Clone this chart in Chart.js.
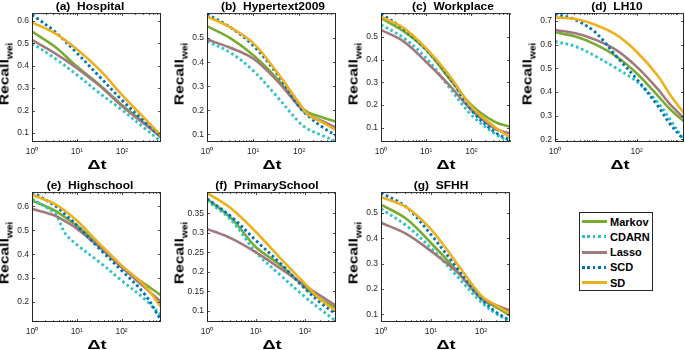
<!DOCTYPE html>
<html>
<head>
<meta charset="utf-8">
<script src="https://cdn.jsdelivr.net/npm/chart.js@4.4.0/dist/chart.umd.min.js"></script>
<style>
html, body { margin: 0; padding: 0; width: 685px; height: 350px; overflow: hidden; background: #fff; }
body { position: relative; font-family: 'Liberation Sans', Arial, sans-serif; color: #000; }
.panel { position: absolute; }
.title { position: absolute; font-weight: bold; font-size: 12px; line-height: 12px; white-space: nowrap; transform: translate(-50%, -50%) scaleY(0.9); }
.ylab { position: absolute; font-weight: bold; font-size: 13px; line-height: 13px; white-space: nowrap; transform: translate(-50%, -50%) rotate(-90deg) scaleX(1.2); }
.ylab span { font-size: 8.5px; position: relative; top: 4px; }
.xlab { position: absolute; font-weight: bold; font-size: 14px; line-height: 14px; white-space: nowrap; transform: translate(-50%, -50%) scaleX(1.3) scaleY(0.85); }
#legend { position: absolute; left: 579px; top: 212px; width: 72px; height: 76px; border: 1px solid #262626; padding-top: 1px; box-sizing: content-box; }
#legend .item { height: 15.25px; display: flex; align-items: center; font-weight: bold; font-size: 11px; }
#legend .swatch { display: inline-block; width: 25px; height: 2.8px; margin-left: 2px; margin-right: 3px; }
</style>
</head>
<body>
<div id="legend"></div>
<script>
// Series (legend order)
const seriesNames = ['Markov', 'CDARN', 'Lasso', 'SCD', 'SD'];

// (a) Hospital
const hospitalDt = [1, 3.2, 10, 32, 100, 320, 740];
const hospitalMarkov = [0.552, 0.485, 0.396, 0.314, 0.225, 0.143, 0.080];
const hospitalCdarn = [0.500, 0.433, 0.359, 0.277, 0.203, 0.121, 0.061];
const hospitalLasso = [0.515, 0.456, 0.389, 0.310, 0.220, 0.140, 0.083];
const hospitalScd = [0.627, 0.552, 0.456, 0.350, 0.247, 0.150, 0.083];
const hospitalSd = [0.593, 0.545, 0.473, 0.381, 0.270, 0.165, 0.090];
const hospitalYTicks = [0.1, 0.2, 0.3, 0.4, 0.5, 0.6];

// (b) Hypertext2009
const hypertextDt = [1, 3.2, 10, 32, 100, 160, 320, 630];
const hypertextMarkov = [0.550, 0.500, 0.430, 0.335, 0.220, 0.190, 0.170, 0.152];
const hypertextCdarn = [0.487, 0.440, 0.365, 0.260, 0.150, 0.120, 0.095, 0.070];
const hypertextLasso = [0.495, 0.460, 0.415, 0.326, 0.215, 0.180, 0.155, 0.128];
const hypertextScd = [0.600, 0.545, 0.470, 0.355, 0.215, 0.175, 0.130, 0.095];
const hypertextSd = [0.590, 0.545, 0.480, 0.362, 0.230, 0.180, 0.150, 0.118];
const hypertextYTicks = [0.1, 0.2, 0.3, 0.4, 0.5];

// (c) Workplace
const workplaceDt = [1, 3.2, 10, 32, 100, 320, 710];
const workplaceMarkov = [0.584, 0.525, 0.444, 0.318, 0.200, 0.127, 0.104];
const workplaceCdarn = [0.555, 0.496, 0.407, 0.279, 0.156, 0.075, 0.038];
const workplaceLasso = [0.532, 0.480, 0.390, 0.289, 0.178, 0.097, 0.075];
const workplaceScd = [0.603, 0.535, 0.444, 0.326, 0.178, 0.082, 0.045];
const workplaceSd = [0.590, 0.540, 0.450, 0.333, 0.193, 0.105, 0.057];
const workplaceYTicks = [0.1, 0.2, 0.3, 0.4, 0.5];

// (d) LH10
const lh10Dt = [1, 3.2, 10, 32, 100, 320, 630, 1450];
const lh10Markov = [0.652, 0.634, 0.600, 0.550, 0.479, 0.387, 0.331, 0.275];
const lh10Cdarn = [0.613, 0.592, 0.550, 0.500, 0.444, 0.359, 0.289, 0.197];
const lh10Lasso = [0.662, 0.648, 0.620, 0.577, 0.507, 0.415, 0.352, 0.289];
const lh10Scd = [0.730, 0.704, 0.650, 0.550, 0.455, 0.345, 0.270, 0.197];
const lh10Sd = [0.715, 0.708, 0.683, 0.641, 0.570, 0.472, 0.394, 0.310];
const lh10YTicks = [0.2, 0.3, 0.4, 0.5, 0.6, 0.7];

// (e) Highschool
const highschoolDt = [1, 3.2, 5.6, 10, 32, 100, 320, 760];
const highschoolMarkov = [0.625, 0.583, 0.553, 0.520, 0.437, 0.346, 0.277, 0.228];
const highschoolCdarn = [0.632, 0.570, 0.485, 0.440, 0.367, 0.290, 0.214, 0.144];
const highschoolLasso = [0.590, 0.562, 0.537, 0.507, 0.430, 0.346, 0.263, 0.200];
const highschoolScd = [0.660, 0.604, 0.565, 0.521, 0.423, 0.332, 0.235, 0.123];
const highschoolSd = [0.649, 0.611, 0.580, 0.541, 0.444, 0.353, 0.270, 0.179];
const highschoolYTicks = [0.2, 0.3, 0.4, 0.5, 0.6];

// (f) PrimarySchool
const primaryDt = [1, 3.2, 10, 32, 100, 200, 430];
const primaryMarkov = [0.387, 0.336, 0.263, 0.217, 0.161, 0.131, 0.108];
const primaryCdarn = [0.383, 0.331, 0.250, 0.191, 0.136, 0.106, 0.074];
const primaryLasso = [0.310, 0.285, 0.250, 0.208, 0.165, 0.140, 0.114];
const primaryScd = [0.387, 0.340, 0.280, 0.221, 0.157, 0.123, 0.092];
const primarySd = [0.402, 0.361, 0.302, 0.234, 0.170, 0.131, 0.100];
const primaryYTicks = [0.1, 0.15, 0.2, 0.25, 0.3, 0.35];

// (g) SFHH
const sfhhDt = [1, 3.2, 10, 32, 100, 200, 380];
const sfhhMarkov = [0.533, 0.478, 0.382, 0.275, 0.162, 0.129, 0.096];
const sfhhCdarn = [0.517, 0.451, 0.362, 0.254, 0.149, 0.103, 0.072];
const sfhhLasso = [0.462, 0.418, 0.350, 0.270, 0.168, 0.136, 0.116];
const sfhhScd = [0.580, 0.524, 0.415, 0.287, 0.162, 0.109, 0.076];
const sfhhSd = [0.563, 0.524, 0.436, 0.305, 0.175, 0.136, 0.103];
const sfhhYTicks = [0.1, 0.2, 0.3, 0.4, 0.5];

const decadeTicks = [1, 10, 100];
const evenDecadeTicks = [1, 100];

// Styles
const seriesColors = ['#77AC30', '#2EC4C6', '#A07A7C', '#0072BD', '#EDB120'];
const seriesDotted = [false, true, false, true, false];
const textColor = '#262626';
const fontFamily = "'Liberation Sans', Arial, sans-serif";

// Layout of plot areas
const AXIS_W = 34, AXIS_H = 24, PAD_TOP = 8, PAD_RIGHT = 6, PLOT_W = 129;

const panels = [
    { title: '(a)\u00a0\u00a0Hospital', dt: hospitalDt, values: [hospitalMarkov, hospitalCdarn, hospitalLasso, hospitalScd, hospitalSd],
      xMax: 740, yMin: 0.06, yMax: 0.634, xTicks: decadeTicks, yTicks: hospitalYTicks, left: 32, top: 13, h: 129, titleX: 90 },
    { title: '(b)\u00a0\u00a0Hypertext2009', dt: hypertextDt, values: [hypertextMarkov, hypertextCdarn, hypertextLasso, hypertextScd, hypertextSd],
      xMax: 630, yMin: 0.068, yMax: 0.604, xTicks: decadeTicks, yTicks: hypertextYTicks, left: 207, top: 13, h: 129, titleX: 273 },
    { title: '(c)\u00a0\u00a0Workplace', dt: workplaceDt, values: [workplaceMarkov, workplaceCdarn, workplaceLasso, workplaceScd, workplaceSd],
      xMax: 710, yMin: 0.037, yMax: 0.606, xTicks: decadeTicks, yTicks: workplaceYTicks, left: 381, top: 13, h: 129, titleX: 453 },
    { title: '(d)\u00a0\u00a0LH10', dt: lh10Dt, values: [lh10Markov, lh10Cdarn, lh10Lasso, lh10Scd, lh10Sd],
      xMax: 1450, yMin: 0.189, yMax: 0.733, xTicks: evenDecadeTicks, yTicks: lh10YTicks, left: 555, top: 13, h: 129, titleX: 617 },
    { title: '(e)\u00a0\u00a0Highschool', dt: highschoolDt, values: [highschoolMarkov, highschoolCdarn, highschoolLasso, highschoolScd, highschoolSd],
      xMax: 760, yMin: 0.116, yMax: 0.66, xTicks: decadeTicks, yTicks: highschoolYTicks, left: 32, top: 192, h: 130, titleX: 90 },
    { title: '(f)\u00a0\u00a0PrimarySchool', dt: primaryDt, values: [primaryMarkov, primaryCdarn, primaryLasso, primaryScd, primarySd],
      xMax: 430, yMin: 0.072, yMax: 0.404, xTicks: decadeTicks, yTicks: primaryYTicks, left: 207, top: 192, h: 130, titleX: 267 },
    { title: '(g)\u00a0\u00a0SFHH', dt: sfhhDt, values: [sfhhMarkov, sfhhCdarn, sfhhLasso, sfhhScd, sfhhSd],
      xMax: 380, yMin: 0.07, yMax: 0.583, xTicks: decadeTicks, yTicks: sfhhYTicks, left: 381, top: 192, h: 130, titleX: 441 }
];

const superscripts = ['\u2070', '\u00b9', '\u00b2', '\u00b3'];

// Box around the axes with inward ticks (major + log minor)
const boxPlugin = {
    id: 'axesBox',
    afterDatasetsDraw(chart) {
        const { ctx, chartArea: a, scales: { x, y } } = chart;
        const majors = chart.options.scales.x.majorTicks;
        ctx.save();
        ctx.strokeStyle = textColor;
        ctx.lineWidth = 1;
        ctx.strokeRect(a.left + 0.5, a.top + 0.5, a.width - 1, a.height - 1);
        ctx.beginPath();
        for (let k = 0; k < 4; k++) {
            for (let m = 1; m < 10; m++) {
                const v = m * Math.pow(10, k);
                if (v <= x.min || v >= x.max) continue;
                const px = Math.round(x.getPixelForValue(v)) + 0.5;
                const len = majors.includes(v) ? 3 : 1.8;
                ctx.moveTo(px, a.bottom); ctx.lineTo(px, a.bottom - len);
                ctx.moveTo(px, a.top); ctx.lineTo(px, a.top + len);
            }
        }
        y.ticks.forEach(t => {
            const py = Math.round(y.getPixelForValue(t.value)) + 0.5;
            ctx.moveTo(a.left, py); ctx.lineTo(a.left + 3, py);
            ctx.moveTo(a.right, py); ctx.lineTo(a.right - 3, py);
        });
        ctx.lineWidth = 0.8;
        ctx.stroke();
        ctx.restore();
    }
};

function addText(cls, html, cx, cy) {
    const el = document.createElement('div');
    el.className = cls;
    el.innerHTML = html;
    el.style.left = cx + 'px';
    el.style.top = cy + 'px';
    document.body.appendChild(el);
}

function makePanel(p) {
    const wrap = document.createElement('div');
    wrap.className = 'panel';
    wrap.style.left = (p.left - AXIS_W) + 'px';
    wrap.style.top = (p.top - PAD_TOP) + 'px';
    const canvas = document.createElement('canvas');
    canvas.width = PLOT_W + AXIS_W + PAD_RIGHT;
    canvas.height = p.h + PAD_TOP + AXIS_H;
    wrap.appendChild(canvas);
    document.body.appendChild(wrap);

    // SD drawn on top, Markov at the bottom
    const datasets = seriesNames.map((name, i) => ({
        label: name,
        data: p.dt.map((d, j) => ({ x: d, y: p.values[i][j] })),
        borderColor: seriesColors[i],
        borderWidth: seriesDotted[i] ? 2.9 : 2.6,
        borderDash: seriesDotted[i] ? [2.6, 2.8] : [],
        borderCapStyle: 'butt',
        pointRadius: 0,
        tension: 0.35,
        fill: false,
        order: seriesNames.length - i
    }));

    new Chart(canvas, {
        type: 'line',
        data: { datasets },
        options: {
            responsive: false,
            animation: false,
            devicePixelRatio: 1,
            layout: { padding: { top: PAD_TOP, right: PAD_RIGHT, left: 0, bottom: 0 } },
            plugins: { legend: { display: false }, tooltip: { enabled: false } },
            scales: {
                x: {
                    type: 'logarithmic',
                    min: 1,
                    max: p.xMax,
                    majorTicks: p.xTicks,
                    grid: { display: false, drawTicks: false },
                    border: { display: false },
                    ticks: {
                        color: textColor, font: { size: 8.5, family: fontFamily },
                        padding: 5, maxRotation: 0, autoSkip: false,
                        callback: v => '10' + superscripts[Math.round(Math.log10(v))]
                    },
                    afterBuildTicks: s => { s.ticks = p.xTicks.map(v => ({ value: v })); },
                    afterFit: s => { s.height = AXIS_H; }
                },
                y: {
                    type: 'linear',
                    min: p.yMin,
                    max: p.yMax,
                    grid: { display: false, drawTicks: false },
                    border: { display: false },
                    ticks: {
                        color: textColor, font: { size: 8.5, family: fontFamily },
                        padding: 3,
                        callback: v => String(+v.toFixed(2))
                    },
                    afterBuildTicks: s => { s.ticks = p.yTicks.map(v => ({ value: v })); },
                    afterFit: s => { s.width = AXIS_W; }
                }
            }
        },
        plugins: [boxPlugin]
    });

    const midY = p.top + p.h / 2;
    addText('title', p.title, p.titleX, p.top - 7.5);
    addText('ylab', 'Recall<span>wei</span>', p.left - 27, midY - 4);
    addText('xlab', '\u0394t', p.left + PLOT_W / 2, p.top + p.h + 23);
}

panels.forEach(makePanel);

// Legend
const legend = document.getElementById('legend');
seriesNames.forEach((name, i) => {
    const row = document.createElement('div');
    row.className = 'item';
    const bg = seriesDotted[i]
        ? `repeating-linear-gradient(90deg, ${seriesColors[i]} 0 2.6px, transparent 2.6px 5.4px)`
        : seriesColors[i];
    row.innerHTML = `<span class="swatch" style="background:${bg}"></span><span>${name}</span>`;
    legend.appendChild(row);
});
</script>
</body>
</html>
